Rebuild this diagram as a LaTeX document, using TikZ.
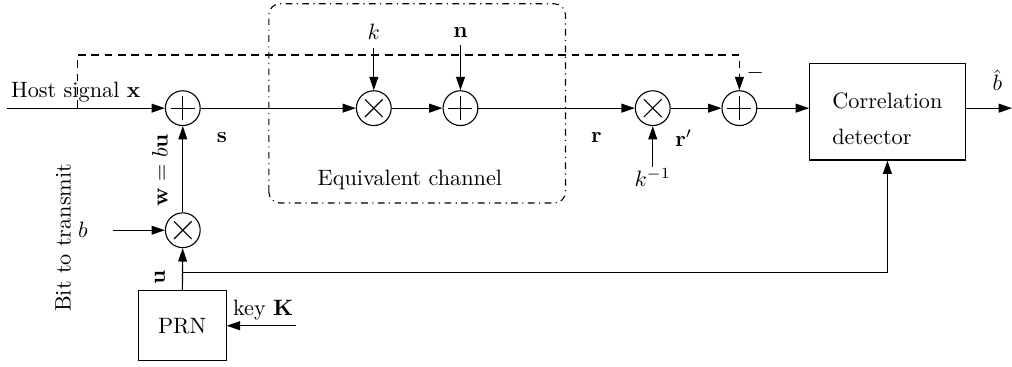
\documentclass[tikz,border=0pt]{standalone}
\usepackage{amsmath,amssymb}
\usetikzlibrary{arrows.meta, positioning}

\tikzset{
  adder/.style={circle, draw, minimum size=0.55cm, inner sep=0pt,
    path picture={
      \draw ([xshift=-0.19cm]path picture bounding box.center) -- ([xshift=0.19cm]path picture bounding box.center);
      \draw ([yshift=-0.19cm]path picture bounding box.center) -- ([yshift=0.19cm]path picture bounding box.center);
    }},
  mixer/.style={circle, draw, minimum size=0.55cm, inner sep=0pt,
    path picture={
      \draw ([shift={(-0.14cm,-0.14cm)}]path picture bounding box.center) -- ([shift={(0.14cm,0.14cm)}]path picture bounding box.center);
      \draw ([shift={(-0.14cm,0.14cm)}]path picture bounding box.center) -- ([shift={(0.14cm,-0.14cm)}]path picture bounding box.center);
    }},
  block/.style={draw, rectangle, inner sep=2pt},
}

\begin{document}
\begin{tikzpicture}[> = {Triangle[length=6pt, width=4pt]}, line width=0.5pt]

\useasboundingbox (0,0) rectangle (16,5.8);

% equivalent channel
\draw[dash dot, rounded corners=5pt] (4.25,2.59) rectangle (8.94,5.74);
\node							(chan)	at (6.48,2.95)	{Equivalent channel};

\node[adder]					(add1)	at (2.89,4.09)	{};
\node[mixer]					(mulb)	at (2.89,2.16)	{};
\node[block, minimum width=1.39cm, minimum height=1.11cm]	(prn)	at (2.88,0.65)	{PRN};
\node[mixer]					(mulk)	at (5.91,4.09)	{};
\node[adder]					(addn)	at (7.28,4.09)	{};
\node[mixer]					(mulki)	at (10.32,4.09)	{};
\node[adder]					(add2)	at (11.69,4.09)	{};
\node[block, minimum width=2.46cm, minimum height=1.52cm]	(det)	at (14.03,4.03)	{};
\node[align=left]				(detlab)	at ([yshift=-0.11cm]det.center)	{Correlation\\[4pt]detector};

% labels
\node[anchor=west]				(host)	at (0.05,4.35)	{Host signal $\mathbf{x}$};
\node							(slab)	at (3.51,3.63)	{$\mathbf{s}$};
\node[rotate=90]				(wlab)	at (2.53,3.11)	{$\mathbf{w}=b\mathbf{u}$};
\node[rotate=90]				(ulab)	at (2.53,1.42)	{$\mathbf{u}$};
\node[rotate=90]				(bit)	at (1.00,2.04)	{Bit to transmit};
\node							(blab)	at (1.31,2.16)	{$b$};
\node							(key)	at (4.16,0.90)	{key $\mathbf{K}$};
\node							(klab)	at (5.91,5.29)	{$k$};
\node							(nlab)	at (7.28,5.29)	{$\mathbf{n}$};
\node[inner sep=0.5pt]			(kinv)	at (10.32,2.99)	{$k^{-1}$};
\node							(rlab)	at (9.43,3.62)	{$\mathbf{r}$};
\node							(rplab)	at (10.81,3.62)	{$\mathbf{r}'$};
\node							(minus)	at (11.94,4.65)	{$-$};
\node[inner sep=1pt]			(bhat)	at (15.77,4.53)	{$\hat{b}$};

\coordinate	(hin)	at (0.11,4.09);
\coordinate	(tap)	at (1.23,4.09);
\coordinate	(tapup)	at (1.23,4.93);
\coordinate	(bin)	at (1.79,2.16);
\coordinate	(kin)	at (4.68,0.65);
\coordinate	(ubr)	at (2.89,1.485);
\coordinate	(out)	at (16.0,4.09);

% signal path
\draw[->]	(hin)	--	(add1);
\draw[->]	(add1)	--	(mulk);
\draw[->]	(mulk)	--	(addn);
\draw[->]	(addn)	--	(mulki);
\draw[->]	(mulki)	--	(add2);
\draw[->]	(add2)	--	(det.west |- add2);
\draw[->]	(det.east |- add2)	--	(out);

% watermark
\draw[->]	(prn)	--	(mulb);
\draw[->]	(mulb)	--	(add1);
\draw[->]	(bin)	--	(mulb);
\draw[->]	(kin)	--	(prn);
\draw[->]	(ubr)	-|	(det);

% channel and inputs
\draw[->]	(klab)	--	(mulk);
\draw[->]	(nlab)	--	(addn);
\draw[->]	(kinv)	--	(mulki);
\draw[->, dash pattern=on 3.5pt off 2.5pt]	(tap)	--	(tapup)	-|	(add2);

\end{tikzpicture}
\end{document}
